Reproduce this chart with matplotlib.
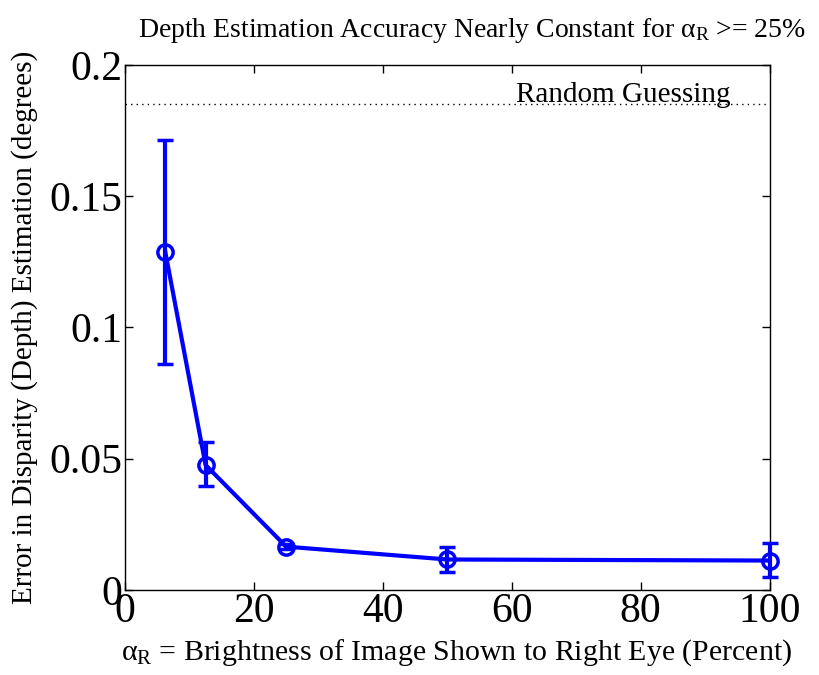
import matplotlib
matplotlib.use('Agg')
import matplotlib.pyplot as plt

# brightness of right-eye image (percent) and disparity error (degrees)
alpha_r = [6.25, 12.5, 25, 50, 100]
mean_err = [0.1288, 0.0476, 0.0165, 0.0116, 0.0112]
err_low = [0.0861, 0.0396, 0.0155, 0.0069, 0.0050]
err_high = [0.1714, 0.0564, 0.0175, 0.0164, 0.0179]
random_guess = 0.185

plt.rcParams['font.family'] = ['Liberation Serif', 'DejaVu Serif']
plt.rcParams['mathtext.fontset'] = 'custom'
plt.rcParams['mathtext.rm'] = 'Liberation Serif'
plt.rcParams['mathtext.it'] = 'Liberation Serif'

fig = plt.figure(figsize=(8.19, 6.75), dpi=100)
ax = fig.add_axes([0.1526, 0.126, 0.787, 0.778])

yerr = [[m - lo for m, lo in zip(mean_err, err_low)],
        [hi - m for m, hi in zip(mean_err, err_high)]]
ax.errorbar(alpha_r, mean_err, yerr=yerr, color='#0000ff', linewidth=3,
            marker='o', markersize=11, markerfacecolor='none', markeredgewidth=2.5,
            capsize=6, capthick=3, elinewidth=3, clip_on=False, zorder=3)

ax.axhline(random_guess, color='black', linestyle=(0, (1, 3)), linewidth=1)
ax.text(94, random_guess + 0.0008, 'Random Guessing', fontsize=21, ha='right', va='baseline')

ax.set_xlim(0, 100)
ax.set_ylim(0, 0.2)
ax.set_xticks([0, 20, 40, 60, 80, 100])
ax.set_yticks([0, 0.05, 0.1, 0.15, 0.2])
ax.set_yticklabels(['0', '0.05', '0.1', '0.15', '0.2'])
ax.tick_params(direction='in', length=6, width=1, labelsize=30, top=True, right=True, pad=2)
for s in ax.spines.values():
    s.set_linewidth(1)

ax.set_xlabel(r'$\alpha_{\rm R}$ = Brightness of Image Shown to Right Eye (Percent)', fontsize=21.5)
ax.xaxis.set_label_coords(0.515, -0.133, transform=ax.transAxes)
ax.xaxis.label.set_va('baseline')
ax.set_ylabel('Error in Disparity (Depth) Estimation (degrees)', fontsize=21, labelpad=8)
ax.set_title(r'Depth Estimation Accuracy Nearly Constant for $\alpha_{\rm R}$ >= 25%', fontsize=20, pad=20, x=0.538)

fig.savefig('out.png', dpi=100)
